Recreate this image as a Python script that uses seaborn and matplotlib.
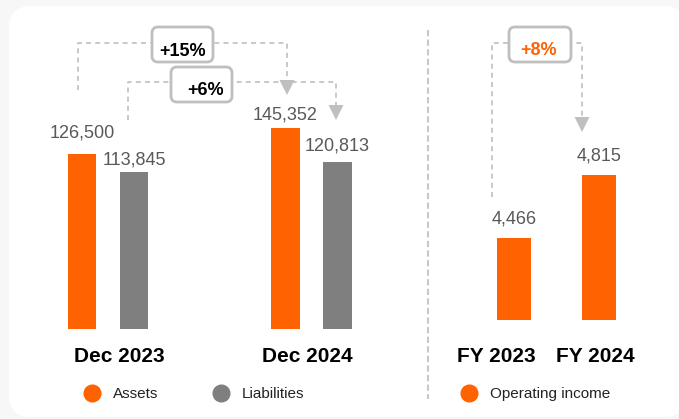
import matplotlib
matplotlib.use("Agg")
import matplotlib.pyplot as plt
import matplotlib.transforms as mtransforms
from matplotlib.lines import Line2D
from matplotlib.patches import FancyBboxPatch, Polygon
import pandas as pd
import seaborn as sns

# balance sheet
periods = ["Dec 2023", "Dec 2024"]
assets = [126500, 145352]
liabilities = [113845, 120813]
# income
years = ["FY 2023", "FY 2024"]
operating_income = [4466, 4815]
growth_labels = ["+15%", "+6%", "+8%"]

ORANGE = "#FF6200"
GREY = "#7F7F7F"
LIGHT = "#BFBFBF"
TXT = "#595959"

sns.set_theme(style="white")
plt.rcParams["font.family"] = ["Liberation Sans", "DejaVu Sans"]

W, H = 679, 419
fig = plt.figure(figsize=(W / 100, H / 100), dpi=100, facecolor="#F7F7F7")


def px_axes(x0, y0, x1, y1):
    # pixel box measured from the top-left corner
    return fig.add_axes([x0 / W, 1 - y1 / H, (x1 - x0) / W, (y1 - y0) / H])


# background card + decorations, 1 unit = 1 pixel
bg = fig.add_axes([0, 0, 1, 1], zorder=0)
bg.set_xlim(0, W)
bg.set_ylim(H, 0)
bg.axis("off")
bg.add_patch(FancyBboxPatch((9, 6), 677, 411, boxstyle="round,pad=0,rounding_size=22",
                            fc="white", ec="none"))

# divider
bg.plot([428, 428], [30, 399], ls=(0, (3, 1.6)), lw=1.5, color="#C8C8C8")


def bracket(x0, y0, x1, y_top, y1):
    bg.plot([x0, x0, x1, x1], [y0, y_top, y_top, y1], ls=(0, (3, 2.5)), lw=1.2, color=LIGHT)
    bg.add_patch(Polygon([(x1 - 7.5, y1), (x1 + 7.5, y1), (x1, y1 + 15)], closed=True,
                         fc=LIGHT, ec="none"))


def badge(x, y, w, h, tx, ty, label, color):
    bg.add_patch(FancyBboxPatch((x, y), w, h, boxstyle="round,pad=0,rounding_size=6",
                                fc="white", ec=LIGHT, lw=2, zorder=3))
    bg.text(tx, ty, label, ha="center", va="baseline", fontsize=13, fontweight="bold",
            color=color, zorder=4)


bracket(78, 90, 287, 43, 80)
bracket(128, 120, 336, 82, 105)
bracket(492, 197, 582, 43, 117)
badge(152, 27, 61, 35, 182.5, 56, growth_labels[0], "black")
badge(171, 67, 61, 35, 206, 95, growth_labels[1], "black")
badge(509, 27, 62, 35, 539, 55, growth_labels[2], ORANGE)

# left panel: assets / liabilities
bs = pd.DataFrame({
    "period": periods * 2,
    "series": ["Assets"] * len(periods) + ["Liabilities"] * len(periods),
    "value": assets + liabilities,
})
ax1 = px_axes(6.25, 20, 413.25, 329)
ax1.set_zorder(1)
ax1.patch.set_alpha(0)
sns.barplot(data=bs, x="period", y="value", hue="series", palette=[ORANGE, GREY],
            width=0.511, gap=0.46, saturation=1, errorbar=None, linewidth=0,
            legend=False, ax=ax1)
ax1.set_xlim(-0.5, 1.5)
ax1.set_ylim(0, 223900)

# right panel: operating income
oi = pd.DataFrame({"year": years, "value": operating_income})
ax2 = px_axes(471.5, 20, 641.5, 320)
ax2.set_zorder(1)
ax2.patch.set_alpha(0)
sns.barplot(data=oi, x="year", y="value", color=ORANGE, width=0.4, saturation=1,
            errorbar=None, linewidth=0, ax=ax2)
ax2.set_xlim(-0.5, 1.5)
ax2.set_ylim(4012, 5674)


def label_bars(ax, container, values, pads):
    for bar, v, p in zip(container, values, pads):
        ax.annotate(f"{v:,}", (bar.get_x() + bar.get_width() / 2, bar.get_height()),
                    xytext=(0, p), textcoords="offset pixels", ha="center",
                    va="baseline", fontsize=13, color=TXT, annotation_clip=False)


label_bars(ax1, ax1.containers[0], assets, [17, 9])
label_bars(ax1, ax1.containers[1], liabilities, [7, 12])
label_bars(ax2, ax2.containers[0], operating_income, [15, 15])

for ax, pad, shifts in [(ax1, 13, [11, -4]), (ax2, 19.5, [-18, -4])]:
    sns.despine(ax=ax, left=True, bottom=True)
    ax.set_yticks([])
    ax.set_xlabel("")
    ax.set_ylabel("")
    ax.tick_params(axis="x", length=0, pad=pad, labelsize=15)
    for lab, dx in zip(ax.get_xticklabels(), shifts):
        lab.set_fontweight("bold")
        lab.set_color("black")
        lab.set_transform(lab.get_transform() +
                          mtransforms.ScaledTranslation(dx / 100, 0, fig.dpi_scale_trans))


def dot_legend(ax, labels, colors, x_px):
    handles = [Line2D([], [], ls="none", marker="o", ms=12, mfc=c, mec=c) for c in colors]
    ax.legend(handles, labels, loc="center left", bbox_to_anchor=(x_px / W, 1 - 394 / H),
              bbox_transform=fig.transFigure, ncol=len(labels), frameon=False, fontsize=11,
              handlelength=1.1, handletextpad=0.8, columnspacing=3.6, borderpad=0,
              borderaxespad=0, labelcolor="#222222")


dot_legend(ax1, ["Assets", "Liabilities"], [ORANGE, GREY], 83.6)
dot_legend(ax2, ["Operating income"], [ORANGE], 460.6)

fig.savefig("out.png", dpi=100, facecolor=fig.get_facecolor())
